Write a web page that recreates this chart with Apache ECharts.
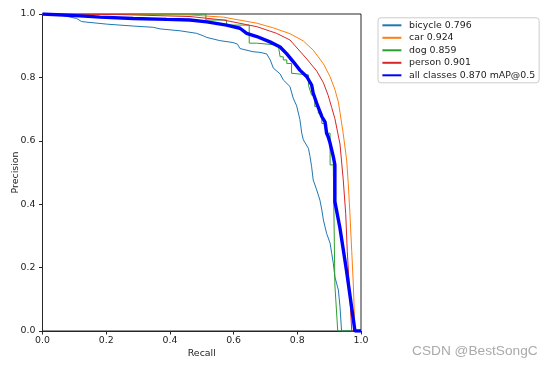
<!DOCTYPE html>
<html>
<head>
<meta charset="utf-8">
<script src="https://cdn.jsdelivr.net/npm/echarts@6/dist/echarts.min.js"></script>
<style>html,body{margin:0;padding:0;background:#fff;}#c{width:553px;height:369px;}</style>
</head>
<body>
<div id="c"></div>
<script>
var xTicks = [0, 0.2, 0.4, 0.6, 0.8, 1.0];
var yTicks = [0, 0.2, 0.4, 0.6, 0.8, 1.0];
var seriesNames = ['bicycle 0.796', 'car 0.924', 'dog 0.859', 'person 0.901', 'all classes 0.870 mAP@0.5'];

var bicycleRecall = [0, 0.055, 0.057, 0.107, 0.109, 0.123, 0.202, 0.243, 0.285, 0.348, 0.369, 0.432, 0.484, 0.505, 0.516, 0.557, 0.598, 0.612, 0.620, 0.661, 0.683, 0.704, 0.715, 0.725, 0.746, 0.756, 0.777, 0.787, 0.798, 0.808, 0.814, 0.819, 0.835, 0.840, 0.845, 0.850, 0.861, 0.871, 0.877, 0.882, 0.892, 0.903, 0.908, 0.913, 0.918, 0.929, 0.934, 0.939, 1.0];
var bicyclePrecision = [1.0, 0.997, 0.991, 0.986, 0.981, 0.976, 0.968, 0.965, 0.962, 0.958, 0.953, 0.947, 0.939, 0.931, 0.926, 0.916, 0.910, 0.905, 0.891, 0.881, 0.879, 0.874, 0.855, 0.829, 0.811, 0.792, 0.771, 0.735, 0.71, 0.668, 0.624, 0.603, 0.576, 0.550, 0.518, 0.476, 0.445, 0.413, 0.382, 0.350, 0.308, 0.277, 0.245, 0.214, 0.171, 0.129, 0.077, 0.0, 0.0];

var carRecall = [0, 0.25, 0.463, 0.568, 0.673, 0.725, 0.777, 0.819, 0.850, 0.882, 0.903, 0.918, 0.929, 0.934, 0.944, 0.955, 0.960, 0.965, 0.971, 0.976, 0.981, 1.0];
var carPrecision = [1.0, 0.999, 0.997, 0.990, 0.971, 0.956, 0.938, 0.915, 0.886, 0.843, 0.802, 0.762, 0.722, 0.690, 0.624, 0.539, 0.466, 0.375, 0.25, 0.145, 0.0, 0.0];

var dogRecall = [0, 0.513, 0.513, 0.578, 0.578, 0.649, 0.649, 0.672, 0.672, 0.740, 0.746, 0.756, 0.756, 0.767, 0.767, 0.782, 0.782, 0.835, 0.835, 0.840, 0.845, 0.855, 0.855, 0.866, 0.866, 0.877, 0.877, 0.892, 0.892, 0.903, 0.903, 0.913, 0.918, 0.927, 1.0];
var dogPrecision = [1.0, 1.0, 0.981, 0.981, 0.965, 0.965, 0.908, 0.908, 0.902, 0.902, 0.865, 0.865, 0.855, 0.855, 0.844, 0.844, 0.813, 0.808, 0.775, 0.771, 0.744, 0.744, 0.708, 0.708, 0.687, 0.687, 0.655, 0.653, 0.624, 0.624, 0.524, 0.524, 0.145, 0.0, 0.0];

var personRecall = [0, 0.25, 0.463, 0.568, 0.673, 0.735, 0.777, 0.830, 0.861, 0.882, 0.897, 0.908, 0.918, 0.934, 0.944, 0.952, 0.957, 0.963, 0.971, 1.0];
var personPrecision = [1.0, 0.998, 0.992, 0.981, 0.960, 0.939, 0.918, 0.858, 0.820, 0.783, 0.743, 0.705, 0.670, 0.590, 0.48, 0.37, 0.25, 0.145, 0.0, 0.0];

var allRecall = [0, 0.118, 0.181, 0.285, 0.390, 0.463, 0.516, 0.578, 0.620, 0.641, 0.673, 0.714, 0.746, 0.767, 0.787, 0.808, 0.830, 0.845, 0.850, 0.861, 0.871, 0.877, 0.887, 0.892, 0.897, 0.903, 0.908, 0.913, 0.918, 0.918, 0.934, 0.955, 0.971, 0.981, 1.0];
var allPrecision = [1.0, 0.994, 0.990, 0.986, 0.983, 0.981, 0.975, 0.965, 0.955, 0.939, 0.929, 0.912, 0.896, 0.874, 0.850, 0.823, 0.802, 0.776, 0.750, 0.718, 0.692, 0.676, 0.660, 0.624, 0.613, 0.592, 0.571, 0.550, 0.524, 0.408, 0.324, 0.187, 0.072, 0.0, 0.0];

function zip(a, b) { return a.map(function (v, i) { return [v, b[i]]; }); }

var colors = ['#1f77b4', '#ff7f0e', '#2ca02c', '#d62728', '#0000ff'];
var widths = [1, 1, 1, 1, 3.4];
var datas = [
  zip(bicycleRecall, bicyclePrecision),
  zip(carRecall, carPrecision),
  zip(dogRecall, dogPrecision),
  zip(personRecall, personPrecision),
  zip(allRecall, allPrecision)
];

var font = 'DejaVu Sans';
var chart = echarts.init(document.getElementById('c'), null, { renderer: 'canvas' });
chart.setOption({
  animation: false,
  backgroundColor: '#ffffff',
  grid: { left: 42.5, top: 14, width: 318.5, height: 317, containLabel: false, outerBoundsMode: 'none', show: true, borderColor: '#262626', borderWidth: 1, backgroundColor: 'transparent' },
  legend: {
    orient: 'vertical', left: 378, top: 17.8,
    itemWidth: 19, itemHeight: 10, itemGap: 3.5,
    padding: [3, 4, 3, 3.4],
    backgroundColor: '#ffffff', borderColor: '#cccccc', borderWidth: 1, borderRadius: 3,
    itemStyle: { opacity: 0 },
    textStyle: { fontFamily: font, fontSize: 9.4, color: '#222', padding: [0, 0, 0, 2.6] },
    data: seriesNames
  },
  xAxis: {
    type: 'value', min: 0, max: 1, interval: 0.2,
    name: 'Recall', nameLocation: 'middle', nameGap: 17.6, nameMoveOverlap: false,
    nameTextStyle: { fontFamily: font, fontSize: 9.4, color: '#222' },
    axisLine: { show: true, lineStyle: { color: '#262626', width: 1 } },
    axisTick: { show: true, length: 3.5, lineStyle: { color: '#262626', width: 1 } },
    axisLabel: { fontFamily: font, fontSize: 9.4, color: '#222', margin: 5, formatter: function (v) { return v.toFixed(1); } },
    splitLine: { show: false }
  },
  yAxis: {
    type: 'value', min: 0, max: 1, interval: 0.2,
    name: 'Precision', nameLocation: 'middle', nameGap: 22.8, nameMoveOverlap: false,
    nameTextStyle: { fontFamily: font, fontSize: 9.4, color: '#222' },
    axisLine: { show: true, lineStyle: { color: '#262626', width: 1 } },
    axisTick: { show: true, length: 3.5, lineStyle: { color: '#262626', width: 1 } },
    axisLabel: { fontFamily: font, fontSize: 9.4, color: '#222', margin: 7, formatter: function (v) { return v.toFixed(1); } },
    splitLine: { show: false }
  },
  graphic: [{
    type: 'text', left: 412, top: 344,
    style: { text: 'CSDN @BestSongC', font: '13.7px "Liberation Sans"', fill: '#aaaaaa' }
  }],
  series: seriesNames.map(function (n, i) {
    return {
      name: n, type: 'line', data: datas[i], showSymbol: false, symbol: 'none',
      color: colors[i], lineStyle: { color: colors[i], width: widths[i] },
      z: 2 + i, clip: true
    };
  })
});
</script>
</body>
</html>
